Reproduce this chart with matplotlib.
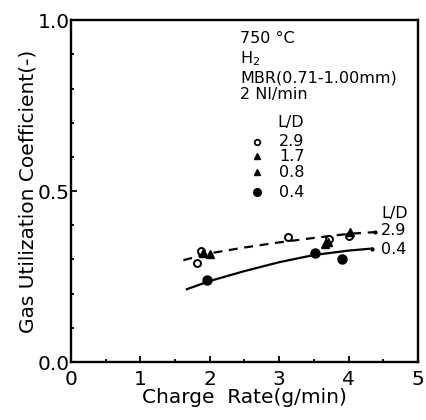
import numpy as np
import matplotlib
matplotlib.use("Agg")
import matplotlib.pyplot as plt
from matplotlib.ticker import MultipleLocator

# measured points, L/D groups
rate_29 = [1.81, 1.88, 3.13, 3.72, 4.00]
guc_29 = [0.29, 0.325, 0.365, 0.36, 0.37]
rate_17 = [1.90, 3.66, 4.02]
guc_17 = [0.32, 0.345, 0.38]
rate_08 = [2.00, 3.70]
guc_08 = [0.315, 0.35]
rate_04 = [1.96, 3.52, 3.91]
guc_04 = [0.24, 0.32, 0.30]

# fitted curves
fit29_x = [1.62, 2.0, 2.5, 3.0, 3.5, 4.0, 4.38]
fit29_y = [0.298, 0.318, 0.335, 0.350, 0.363, 0.375, 0.380]
fit04_x = [1.67, 2.0, 2.5, 3.0, 3.5, 4.0, 4.34]
fit04_y = [0.213, 0.237, 0.266, 0.292, 0.313, 0.326, 0.332]

plt.rcParams['font.family'] = ['DejaVu Sans']
fig = plt.figure(figsize=(4.27, 4.2), dpi=100)
ax = fig.add_axes([0.166, 0.138, 0.813, 0.814])

ax.plot(fit29_x, fit29_y, 'k--', lw=1.6, dashes=(4, 3))
ax.plot(fit04_x, fit04_y, 'k-', lw=1.6)
ax.plot([fit29_x[-1]], [fit29_y[-1]], 'k.', ms=4)
ax.plot([fit04_x[-1]], [fit04_y[-1]], 'k.', ms=4)

ax.plot(rate_29, guc_29, 'o', mfc='white', mec='k', mew=1.4, ms=5)
ax.plot(rate_17, guc_17, '^', color='k', ms=5.5)
ax.plot(rate_08, guc_08, '^', color='k', ms=5.5)
ax.plot(rate_04, guc_04, 'o', color='k', ms=6.5)

ax.set_xlim(0, 5)
ax.set_ylim(0, 1.0)
ax.set_xticks([0, 1, 2, 3, 4, 5])
ax.set_yticks([0.0, 0.5, 1.0])
ax.set_yticklabels(['0.0', '0.5', '1.0'])
ax.xaxis.set_minor_locator(MultipleLocator(0.5))
ax.yaxis.set_minor_locator(MultipleLocator(0.1))
ax.tick_params(direction='in', which='both', labelsize=14.5, width=1.3)
ax.tick_params(axis='x', pad=6)
ax.tick_params(axis='y', pad=1)
ax.tick_params(which='major', length=4)
ax.tick_params(which='minor', length=2)
for s in ax.spines.values():
    s.set_linewidth(1.7)

ax.set_xlabel('Charge  Rate(g/min)', fontsize=14.5, labelpad=-1)
ax.set_ylabel('Gas Utilization Coefficient(-)', fontsize=14.5, labelpad=0)

ax.text(2.44, 0.968, '750 °C\nH$_2$\nMBR(0.71-1.00mm)\n2 Nl/min', fontsize=11.5,
        va='top', ha='left', linespacing=1.2)
ax.text(2.98, 0.702, 'L/D', fontsize=11.5, va='center')
leg_y = [0.645, 0.602, 0.555, 0.497]
leg_t = ['2.9', '1.7', '0.8', '0.4']
ax.plot(2.68, leg_y[0], 'o', mfc='white', mec='k', mew=1.3, ms=4)
ax.plot(2.68, leg_y[1], '^', color='k', ms=4.5)
ax.plot(2.68, leg_y[2], '^', color='k', ms=4.5)
ax.plot(2.68, leg_y[3], 'o', color='k', ms=5.5)
for yy, t in zip(leg_y, leg_t):
    ax.text(3.0, yy, t, fontsize=11.5, va='center')

ax.text(4.47, 0.435, 'L/D', fontsize=11.5, va='center')
ax.text(4.47, 0.385, '2.9', fontsize=11.5, va='center')
ax.text(4.47, 0.33, '0.4', fontsize=11.5, va='center')

fig.savefig('out.png', dpi=100)
